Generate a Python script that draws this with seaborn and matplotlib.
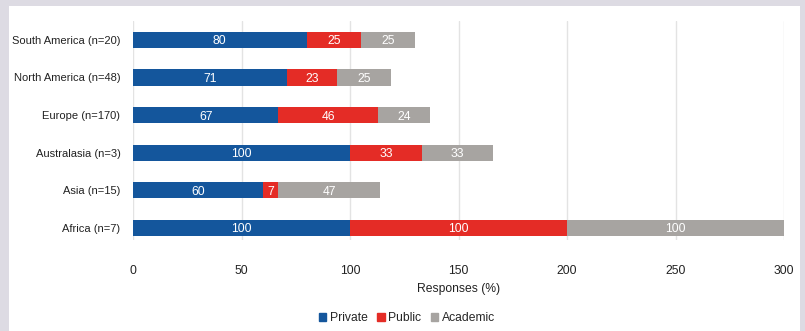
import matplotlib
matplotlib.use("Agg")
import matplotlib.pyplot as plt
from matplotlib.patches import Rectangle, Patch
import numpy as np
import pandas as pd
import seaborn as sns

regions = ["South America (n=20)", "North America (n=48)", "Europe (n=170)",
           "Australasia (n=3)", "Asia (n=15)", "Africa (n=7)"]
private = [80, 71, 67, 100, 60, 100]
public = [25, 23, 46, 33, 7, 100]
academic = [25, 25, 24, 33, 47, 100]
x_ticks = [0, 50, 100, 150, 200, 250, 300]

c_private = "#14569c"
c_public = "#e42c26"
c_academic = "#a7a4a1"
txt = "#222222"
fs = 8.7

sns.set_theme(style="white")
plt.rcParams["font.family"] = ["Liberation Sans", "DejaVu Sans"]

df = pd.DataFrame({"region": regions, "Private": private,
                   "Public": public, "Academic": academic})
df["s1"] = df["Private"]
df["s2"] = df["Private"] + df["Public"]
df["s3"] = df["s2"] + df["Academic"]

fig = plt.figure(figsize=(8.05, 3.31), dpi=100, facecolor="#dddbe3")
fig.patches.append(Rectangle((9 / 805, 0), 791 / 805, 1 - 6 / 331,
                             transform=fig.transFigure, facecolor="white",
                             edgecolor="none", zorder=-5))
ax = fig.add_axes([133 / 805, 1 - 240 / 331, 651 / 805, 219 / 331])
ax.set_zorder(2)
ax.set_facecolor("none")

# stacked bars drawn as layered cumulative totals
for col, color in [("s3", c_academic), ("s2", c_public), ("s1", c_private)]:
    sns.barplot(data=df, x=col, y="region", color=color, width=0.43,
                saturation=1, linewidth=0, ax=ax, zorder=3)

# segment value labels, centred on each segment
for i, r in df.iterrows():
    starts = [0, r["s1"], r["s2"]]
    vals = [r["Private"], r["Public"], r["Academic"]]
    for s, v in zip(starts, vals):
        ax.text(s + v / 2, i + 0.04, f"{v}", ha="center", va="center",
                color="white", fontsize=fs, zorder=5)

ax.set_xlim(0, 300)
ax.set_ylim(5.32, -0.5)
ax.set_xticks(x_ticks)
ax.set_xticklabels([str(t) for t in x_ticks])
ax.grid(axis="x", color="#e3e3e3", linewidth=1, zorder=0)
ax.set_axisbelow(True)
for sp in ax.spines.values():
    sp.set_visible(False)
ax.tick_params(axis="x", length=0, pad=18, labelsize=fs, labelcolor=txt)
ax.tick_params(axis="y", length=0, pad=9, labelsize=8, labelcolor=txt)
ax.set_ylabel("")
ax.set_xlabel("Responses (%)", fontsize=fs, color=txt, labelpad=4)

handles = [Patch(color=c_private, label="Private"),
           Patch(color=c_public, label="Public"),
           Patch(color=c_academic, label="Academic")]
fig.legend(handles=handles, loc="center", bbox_to_anchor=(407 / 805, 1 - 318 / 331),
           ncol=3, frameon=False, fontsize=fs, handlelength=0.6, handleheight=0.6,
           handletextpad=0.3, columnspacing=0.8)

fig.savefig("out.png", dpi=100, facecolor=fig.get_facecolor())
